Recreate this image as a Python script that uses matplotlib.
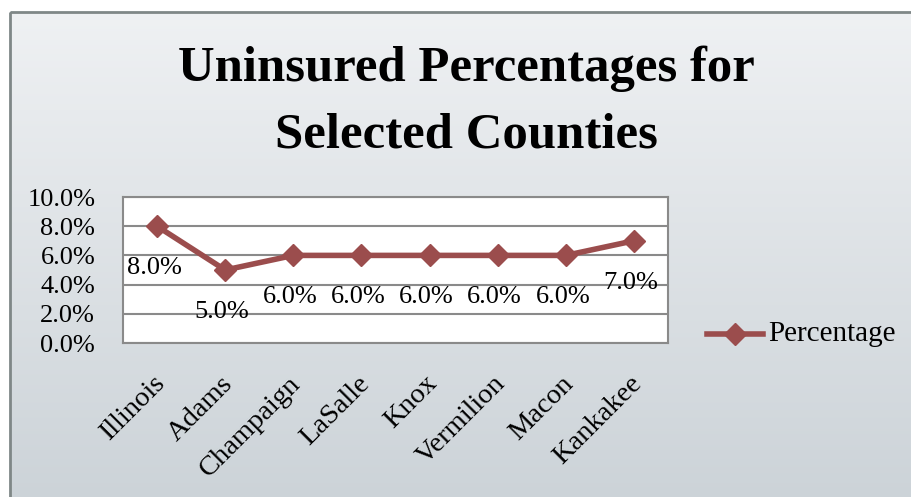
import numpy as np
import matplotlib.pyplot as plt
import matplotlib.transforms as mtransforms
from matplotlib.patches import Rectangle
from matplotlib.lines import Line2D

counties = ["Illinois", "Adams", "Champaign", "LaSalle", "Knox",
            "Vermilion", "Macon", "Kankakee"]
percentages = [8.0, 5.0, 6.0, 6.0, 6.0, 6.0, 6.0, 7.0]
y_ticks = [0, 2, 4, 6, 8, 10]
series_name = "Percentage"
title = "Uninsured Percentages for\nSelected Counties"

LINE_COLOR = "#9b4d4d"
FONT = "Liberation Serif"
W, H = 912, 497

fig = plt.figure(figsize=(W / 100, H / 100), dpi=100)
fig.patch.set_facecolor("white")

# chart area background: vertical gradient with a grey frame
bg = fig.add_axes([0, 0, 1, 1], zorder=-10)
bg.set_xlim(0, W)
bg.set_ylim(H, 0)
bg.axis("off")
grad = np.linspace(0, 1, 256).reshape(-1, 1)
top = np.array([0.937, 0.945, 0.953])
bot = np.array([0.800, 0.827, 0.847])
img = top + (bot - top) * grad[..., None]
bg.imshow(img, extent=[10, W + 5, H + 5, 12], aspect="auto", zorder=0)
bg.add_patch(Rectangle((10, 12), W, H, fill=False, edgecolor="#7f8787",
                       linewidth=2.0, zorder=1))

# title
fig.text(466 / W, 1 - 102 / H, title, ha="center", va="center",
         fontsize=36.5, fontweight="bold", family=FONT, linespacing=1.58)

# plot area
ax = fig.add_axes([123 / W, 1 - 343 / H, 545 / W, 146 / H])
ax.set_facecolor("white")
x = np.arange(len(counties))
ax.plot(x, percentages, color=LINE_COLOR, linewidth=4, marker="D",
        markersize=11, zorder=3)
ax.set_xlim(-0.5, len(counties) - 0.5)
ax.set_ylim(0, 10)
ax.set_yticks(y_ticks)
ax.set_yticklabels([f"{v:.1f}%" for v in y_ticks], family=FONT, fontsize=19)
ax.yaxis.grid(True, color="#8a8a8a", linewidth=1.5)
ax.set_axisbelow(True)
ax.tick_params(axis="y", length=0, pad=20)
ax.set_xticks(x)
ax.set_xticklabels(counties, family=FONT, fontsize=20.5, rotation=45,
                   ha="right", va="center", rotation_mode="anchor")
ax.tick_params(axis="x", length=0, pad=0)
offset = mtransforms.ScaledTranslation(4 / 100, -37 / 100, fig.dpi_scale_trans)
for lbl in ax.get_xticklabels():
    lbl.set_transform(lbl.get_transform() + offset)
for side in ["top", "right", "left", "bottom"]:
    ax.spines[side].set_color("#8a8a8a")
    ax.spines[side].set_linewidth(1.5)

# data labels below the points
for xi, v in zip(x, percentages):
    ax.annotate(f"{v:.1f}%", (xi, v), xytext=(-3, -42),
                textcoords="offset pixels", ha="center", va="center",
                family=FONT, fontsize=19)

# legend
ly = 1 - 334 / H
fig.add_artist(Line2D([707 / W, 763 / W], [ly, ly],
                      color=LINE_COLOR, linewidth=4))
fig.add_artist(Line2D([735 / W], [ly], color=LINE_COLOR,
                      marker="D", markersize=11, linestyle="none"))
fig.text(768 / W, ly, series_name, ha="left", va="center",
         family=FONT, fontsize=21)

fig.savefig("out.png", dpi=100)
